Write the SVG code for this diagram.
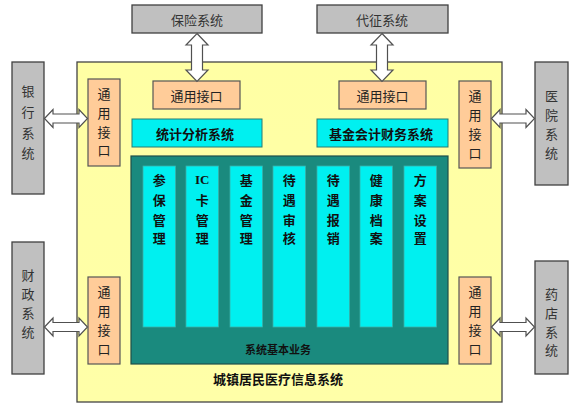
<svg xmlns="http://www.w3.org/2000/svg" width="582" height="415" viewBox="0 0 582 415">
<style>
text{font-family:"Noto Sans CJK SC","Noto Sans",sans-serif;text-anchor:middle;dominant-baseline:central}
.ext{fill:#C0C0C0;stroke:#404040;stroke-width:1.3}
.ext-t{font-size:13px;fill:#333333}
.if{fill:#FFCC99;stroke:#555555;stroke-width:1.2}
.if-t{font-size:13px;fill:#222222}
.cy{fill:#00F0F0;stroke:#2A7A72;stroke-width:1}
.cy-t{font-size:13px;font-weight:bold;fill:#111111}
.col{fill:#00F0F0;stroke:#3AB0A8;stroke-width:0.8}
.arrow{fill:#FFFFFF;stroke:#505050;stroke-width:1.2;stroke-linejoin:miter}
</style>
<defs>
<linearGradient id="yel" x1="0" y1="0" x2="0" y2="1">
<stop offset="0" stop-color="#FFFFA4"/>
<stop offset="1" stop-color="#FFFFA8"/>
</linearGradient>
</defs>

<g id="main-system">
<rect x="77" y="62" width="425" height="340" fill="url(#yel)" stroke="#444444" stroke-width="1.3"/>
<text x="278" y="378" style="font-size:13px;font-weight:bold;fill:#111111">城镇居民医疗信息系统</text>
</g>

<g id="ext-baoxian"><rect class="ext" x="132" y="5" width="130" height="28"/><text class="ext-t" x="197" y="19.5">保险系统</text></g>
<g id="ext-daizheng"><rect class="ext" x="317" y="5" width="131" height="28"/><text class="ext-t" x="382" y="19.5">代征系统</text></g>
<g id="ext-yinhang"><rect class="ext" x="12" y="62" width="32" height="132"/>
<text class="ext-t" x="28" y="90">银</text><text class="ext-t" x="28" y="111">行</text><text class="ext-t" x="28" y="132">系</text><text class="ext-t" x="28" y="152">统</text></g>
<g id="ext-caizheng"><rect class="ext" x="12" y="242" width="32" height="132"/>
<text class="ext-t" x="28" y="274">财</text><text class="ext-t" x="28" y="293">政</text><text class="ext-t" x="28" y="312">系</text><text class="ext-t" x="28" y="331">统</text></g>
<g id="ext-yiyuan"><rect class="ext" x="535" y="62" width="33" height="123"/>
<text class="ext-t" x="551.5" y="95">医</text><text class="ext-t" x="551.5" y="114">院</text><text class="ext-t" x="551.5" y="133">系</text><text class="ext-t" x="551.5" y="152">统</text></g>
<g id="ext-yaodian"><rect class="ext" x="535" y="261" width="33" height="113"/>
<text class="ext-t" x="551.5" y="293">药</text><text class="ext-t" x="551.5" y="312">店</text><text class="ext-t" x="551.5" y="331">系</text><text class="ext-t" x="551.5" y="349">统</text></g>

<g id="if-top-left"><rect class="if" x="153" y="81" width="87" height="28"/><text class="if-t" x="196.5" y="95">通用接口</text></g>
<g id="if-top-right"><rect class="if" x="339" y="81" width="87" height="28"/><text class="if-t" x="382.5" y="95">通用接口</text></g>
<g id="if-left-top"><rect class="if" x="88" y="79" width="32" height="87"/>
<text class="if-t" x="104" y="93.5">通</text><text class="if-t" x="104" y="112">用</text><text class="if-t" x="104" y="131">接</text><text class="if-t" x="104" y="149.5">口</text></g>
<g id="if-left-bottom"><rect class="if" x="88" y="277" width="32" height="87"/>
<text class="if-t" x="104" y="291">通</text><text class="if-t" x="104" y="310">用</text><text class="if-t" x="104" y="329">接</text><text class="if-t" x="104" y="348">口</text></g>
<g id="if-right-top"><rect class="if" x="459" y="81" width="32" height="87"/>
<text class="if-t" x="475" y="95">通</text><text class="if-t" x="475" y="114">用</text><text class="if-t" x="475" y="133">接</text><text class="if-t" x="475" y="152">口</text></g>
<g id="if-right-bottom"><rect class="if" x="459" y="277" width="32" height="87"/>
<text class="if-t" x="475" y="291">通</text><text class="if-t" x="475" y="310">用</text><text class="if-t" x="475" y="329">接</text><text class="if-t" x="475" y="348">口</text></g>

<g id="tongji"><rect class="cy" x="132" y="119" width="130" height="28"/><text class="cy-t" x="195" y="133">统计分析系统</text></g>
<g id="kuaiji"><rect class="cy" x="317" y="119" width="131" height="28"/><text class="cy-t" x="381" y="133">基金会计财务系统</text></g>

<g id="basic-business">
<rect x="131" y="156" width="317" height="208" fill="#1A8A7E" stroke="#1F4F4A" stroke-width="1.2"/>
<text x="278" y="349" style="font-size:11px;font-weight:bold;fill:#111111">系统基本业务</text>
</g>

<g id="col-canbao"><rect class="col" x="143" y="166" width="32.5" height="161"/>
<text class="cy-t" x="159.2" y="179">参</text><text class="cy-t" x="159.2" y="199">保</text><text class="cy-t" x="159.2" y="219">管</text><text class="cy-t" x="159.2" y="237">理</text></g>
<g id="col-ic"><rect class="col" x="186" y="166" width="32.5" height="161"/>
<text class="cy-t" x="202.2" y="179" style="font-family:'Liberation Serif',serif">IC</text><text class="cy-t" x="202.2" y="199">卡</text><text class="cy-t" x="202.2" y="219">管</text><text class="cy-t" x="202.2" y="237">理</text></g>
<g id="col-jijin"><rect class="col" x="230" y="166" width="32.5" height="161"/>
<text class="cy-t" x="246.2" y="179">基</text><text class="cy-t" x="246.2" y="199">金</text><text class="cy-t" x="246.2" y="219">管</text><text class="cy-t" x="246.2" y="237">理</text></g>
<g id="col-shenhe"><rect class="col" x="273" y="166" width="32.5" height="161"/>
<text class="cy-t" x="289.2" y="179">待</text><text class="cy-t" x="289.2" y="199">遇</text><text class="cy-t" x="289.2" y="219">审</text><text class="cy-t" x="289.2" y="237">核</text></g>
<g id="col-baoxiao"><rect class="col" x="317" y="166" width="32.5" height="161"/>
<text class="cy-t" x="333.2" y="179">待</text><text class="cy-t" x="333.2" y="199">遇</text><text class="cy-t" x="333.2" y="219">报</text><text class="cy-t" x="333.2" y="237">销</text></g>
<g id="col-dangan"><rect class="col" x="360" y="166" width="32.5" height="161"/>
<text class="cy-t" x="376.2" y="179">健</text><text class="cy-t" x="376.2" y="199">康</text><text class="cy-t" x="376.2" y="219">档</text><text class="cy-t" x="376.2" y="237">案</text></g>
<g id="col-fangan"><rect class="col" x="404" y="166" width="32.5" height="161"/>
<text class="cy-t" x="420.2" y="179">方</text><text class="cy-t" x="420.2" y="199">案</text><text class="cy-t" x="420.2" y="219">设</text><text class="cy-t" x="420.2" y="237">置</text></g>

<g id="connectors">
<path class="arrow" d="M197,33.5 L208,45 L202.5,45 L202.5,70 L208,70 L197,81.5 L186,70 L191.5,70 L191.5,45 L186,45 Z"/>
<path class="arrow" d="M382,33.5 L393,45 L387.5,45 L387.5,70 L393,70 L382,81.5 L371,70 L376.5,70 L376.5,45 L371,45 Z"/>
<path class="arrow" d="M44.5,118.5 L53,109.5 L53,114 L79,114 L79,109.5 L87.5,118.5 L79,127.5 L79,123 L53,123 L53,127.5 Z"/>
<path class="arrow" d="M44.5,327 L53,318 L53,322.5 L79,322.5 L79,318 L87.5,327 L79,336 L79,331.5 L53,331.5 L53,336 Z"/>
<path class="arrow" d="M491.5,118.5 L500,109.5 L500,114 L526,114 L526,109.5 L534.5,118.5 L526,127.5 L526,123 L500,123 L500,127.5 Z"/>
<path class="arrow" d="M491.5,327 L500,318 L500,322.5 L526,322.5 L526,318 L534.5,327 L526,336 L526,331.5 L500,331.5 L500,336 Z"/>
</g>
</svg>
